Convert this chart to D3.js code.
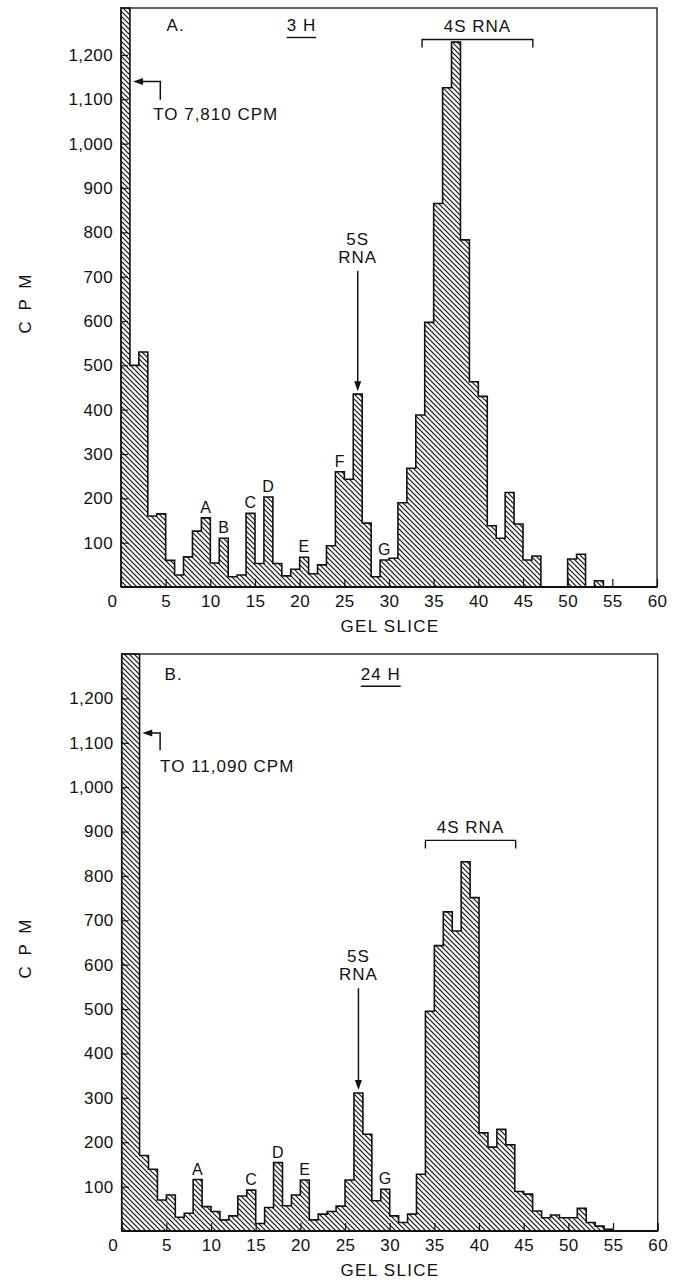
<!DOCTYPE html>
<html lang="en">
<head>
  <meta charset="UTF-8" />
  <title>Gel slice CPM profiles</title>
  <style>
    body { margin: 0; background: #fff; }
    svg { display: block; }
    text { font-family: "Liberation Sans", Arial, sans-serif; fill: #111; }
    .tick text { font-size: 17px; letter-spacing: 0.4px; }
    .tick line { stroke: #111; stroke-width: 1.2; }
    .note { font-size: 17px; letter-spacing: 1px; }
    .peak { font-size: 16px; letter-spacing: 0.5px; }
  </style>
</head>
<body>
  <div id="chart"></div>

  <script src="https://cdnjs.cloudflare.com/ajax/libs/d3/7.8.5/d3.min.js"></script>
  <script>
    // CPM per gel slice (slice i spans i..i+1)
    const cpm3h = [
      7810, 500, 530, 160, 165, 60, 27, 68, 126, 156,
      54, 110, 23, 27, 166, 53, 203, 53, 25, 40,
      67, 30, 50, 93, 260, 243, 435, 144, 23, 61,
      65, 190, 268, 388, 597, 865, 1126, 1229, 783, 463,
      430, 138, 110, 213, 142, 61, 70, 0, 0, 0,
      63, 74, 0, 14, 0, 0, 0, 0, 0, 0
    ];
    const cpm24h = [
      11090, 1400, 170, 139, 70, 81, 31, 40, 116, 55,
      44, 25, 34, 79, 92, 17, 53, 154, 57, 81,
      115, 25, 38, 44, 56, 115, 311, 218, 68, 94,
      34, 19, 38, 128, 495, 643, 719, 676, 832, 751,
      221, 189, 229, 194, 89, 83, 45, 30, 36, 30,
      30, 51, 19, 11, 4, 0, 0, 0, 0, 0
    ];

    const xTicks = d3.range(0, 61, 5);
    const yTicks = d3.range(100, 1201, 100);

    const peakLetters3h = ['A', 'B', 'C', 'D', 'E', 'F', 'G'];
    const peakSlices3h = [9, 11, 14, 16, 20, 24, 29];
    const peakLetters24h = ['A', 'C', 'D', 'E', 'G'];
    const peakSlices24h = [8, 14, 17, 20, 29];

    const panelLetters = ['A.', 'B.'];
    const timeLabels = ['3 H', '24 H'];
    const offscaleLabels = ['TO 7,810 CPM', 'TO 11,090 CPM'];

    const width = 687, height = 1282;

    // layout of the two panels (pixels / data units for annotations)
    const panels = [
      {
        values: cpm3h, letters: peakLetters3h, slices: peakSlices3h,
        top: 8, bottom: 587, left: 121, right: 657, yMax: 1306,
        letterPos: [5.1, 1253], timePos: [20.2, 1253],
        bracket: [33.7, 46.1, 1235],
        arrow5s: { slice: 26, top: 713 },
        offscale: { tip: [1.35, 1140], elbowX: 4.4, endY: 1099, text: [3.6, 1053] }
      },
      {
        values: cpm24h, letters: peakLetters24h, slices: peakSlices24h,
        top: 654, bottom: 1231, left: 121.7, right: 657.7, yMax: 1300,
        letterPos: [4.8, 1241], timePos: [29.0, 1241],
        bracket: [34, 44.1, 880],
        arrow5s: { slice: 26, top: 547 },
        offscale: { tip: [2.3, 1122], elbowX: 4.3, endY: 1083, text: [4.3, 1034] }
      }
    ];

    const svg = d3.select('#chart')
      .append('svg')
      .attr('width', width)
      .attr('height', height);

    // diagonal hatching used by all bars
    svg.append('defs')
      .append('pattern')
      .attr('id', 'hatch')
      .attr('patternUnits', 'userSpaceOnUse')
      .attr('width', 5)
      .attr('height', 5)
      .append('path')
      .attr('d', 'M-1,-1 L6,6 M-1,4 L1,6 M4,-1 L6,1')
      .attr('stroke', '#111')
      .attr('stroke-width', 1.2);

    panels.forEach((p, k) => {
      const g = svg.append('g');
      const x = d3.scaleLinear().domain([0, 60]).range([p.left, p.right]);
      const y = d3.scaleLinear().domain([0, p.yMax]).range([p.bottom, p.top]).clamp(true);

      const n = p.values.length;
      const pts = p.values.map((v, i) => ({ s: i, v }));

      // hatched histogram body
      const area = d3.area()
        .curve(d3.curveStepAfter)
        .x(d => x(d.s))
        .y0(y(0))
        .y1(d => y(d.v));
      g.append('path')
        .datum(pts.concat([{ s: n, v: 0 }]))
        .attr('d', area)
        .attr('fill', 'url(#hatch)');

      // step outline
      const line = d3.line()
        .curve(d3.curveStepAfter)
        .x(d => x(d.s))
        .y(d => y(d.v));
      g.append('path')
        .datum([{ s: 0, v: 0 }].concat(pts, [{ s: n, v: 0 }]))
        .attr('d', line)
        .attr('fill', 'none')
        .attr('stroke', '#111')
        .attr('stroke-width', 1.6);

      // axes (ticks point inward)
      const xAxis = g.append('g')
        .attr('transform', `translate(0,${p.bottom})`)
        .call(d3.axisBottom(x).tickValues(xTicks).tickSize(-8).tickPadding(8));
      xAxis.select('.domain').remove();
      xAxis.selectAll('.tick').filter(d => d === 0).select('text').attr('dx', -9);

      const yAxis = g.append('g')
        .attr('transform', `translate(${p.left},0)`)
        .call(d3.axisLeft(y).tickValues(yTicks).tickSize(-7).tickPadding(8).tickFormat(d3.format(',')));
      yAxis.select('.domain').remove();
      g.selectAll('.tick text').attr('fill', '#111').style('font-family', '"Liberation Sans", Arial, sans-serif');

      // frame
      g.append('rect')
        .attr('x', p.left).attr('y', p.top)
        .attr('width', p.right - p.left).attr('height', p.bottom - p.top)
        .attr('fill', 'none').attr('stroke', '#111').attr('stroke-width', 1.3);
      g.append('line')
        .attr('x1', p.left).attr('x2', p.right)
        .attr('y1', p.bottom).attr('y2', p.bottom)
        .attr('stroke', '#111').attr('stroke-width', 2.2);

      // axis titles
      g.append('text')
        .attr('class', 'note')
        .attr('x', 390).attr('y', p.bottom + 45)
        .attr('text-anchor', 'middle')
        .style('letter-spacing', '1.3px')
        .text('GEL SLICE');
      const cy = (p.top + p.bottom) / 2 + 5;
      g.append('text')
        .attr('class', 'note')
        .attr('transform', `translate(31,${cy}) rotate(-90)`)
        .attr('text-anchor', 'middle')
        .style('letter-spacing', '3px')
        .text('C P M');

      // panel letter and time label
      g.append('text')
        .attr('class', 'note')
        .attr('x', x(p.letterPos[0])).attr('y', y(p.letterPos[1]))
        .text(panelLetters[k]);
      const tl = g.append('text')
        .attr('class', 'note')
        .attr('x', x(p.timePos[0])).attr('y', y(p.timePos[1]))
        .attr('text-anchor', 'middle')
        .text(timeLabels[k]);
      const tw = tl.node().getComputedTextLength();
      g.append('line')
        .attr('x1', x(p.timePos[0]) - tw / 2).attr('x2', x(p.timePos[0]) + tw / 2)
        .attr('y1', y(p.timePos[1]) + 6).attr('y2', y(p.timePos[1]) + 6)
        .attr('stroke', '#111').attr('stroke-width', 1.4);

      // 4S RNA bracket
      const by = y(p.bracket[2]);
      g.append('path')
        .attr('d', `M${x(p.bracket[0])},${by + 8}V${by}H${x(p.bracket[1])}V${by + 8}`)
        .attr('fill', 'none').attr('stroke', '#111').attr('stroke-width', 1.4);
      g.append('text')
        .attr('class', 'note')
        .attr('x', (x(p.bracket[0]) + x(p.bracket[1])) / 2)
        .attr('y', by - 7)
        .attr('text-anchor', 'middle')
        .text('4S RNA');

      // 5S RNA arrow
      const ax = x(p.arrow5s.slice + 0.5);
      const tipY = y(p.values[p.arrow5s.slice]) - 3;
      const topY = y(p.arrow5s.top);
      g.append('line')
        .attr('x1', ax).attr('x2', ax).attr('y1', topY).attr('y2', tipY - 8)
        .attr('stroke', '#111').attr('stroke-width', 1.5);
      g.append('path')
        .attr('d', `M${ax - 3.5},${tipY - 10}L${ax + 3.5},${tipY - 10}L${ax},${tipY}Z`)
        .attr('fill', '#111');
      g.append('text').attr('class', 'note')
        .attr('x', ax).attr('y', topY - 8).attr('text-anchor', 'middle').text('RNA');
      g.append('text').attr('class', 'note')
        .attr('x', ax).attr('y', topY - 26).attr('text-anchor', 'middle').text('5S');

      // off-scale note
      const o = p.offscale;
      const tx = x(o.tip[0]), ty = y(o.tip[1]);
      g.append('path')
        .attr('d', `M${tx + 8},${ty}H${x(o.elbowX)}V${y(o.endY)}`)
        .attr('fill', 'none').attr('stroke', '#111').attr('stroke-width', 1.5);
      g.append('path')
        .attr('d', `M${tx},${ty}L${tx + 10},${ty - 3.5}L${tx + 10},${ty + 3.5}Z`)
        .attr('fill', '#111');
      g.append('text').attr('class', 'note')
        .attr('x', x(o.text[0])).attr('y', y(o.text[1]))
        .text(offscaleLabels[k]);

      // peak letters
      g.selectAll('.peak')
        .data(p.letters.map((l, i) => ({ l, s: p.slices[i] })))
        .enter()
        .append('text')
        .attr('class', 'peak')
        .attr('x', d => x(d.s + 0.5))
        .attr('y', d => y(p.values[d.s]) - 5)
        .attr('text-anchor', 'middle')
        .text(d => d.l);
    });
  </script>
</body>
</html>
